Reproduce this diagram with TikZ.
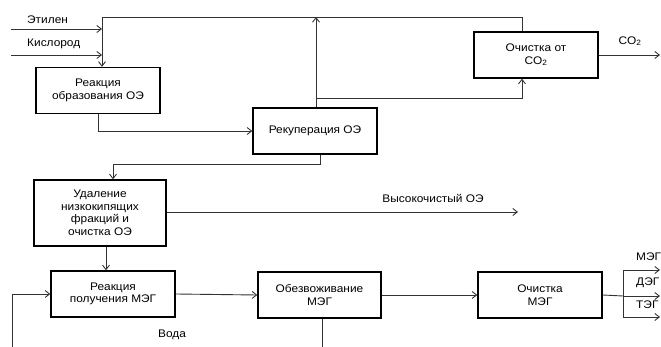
\documentclass[tikz,border=0pt]{standalone}
\usepackage{fontspec}
\setmainfont[FakeStretch=1.08]{Liberation Sans}
\usetikzlibrary{arrows.meta}
\begin{document}
\begin{tikzpicture}[x=1pt,y=-1pt,
  font=\fontsize{11}{12.5}\selectfont,
  box/.style={draw=black,line width=1.4pt,minimum width=124pt,minimum height=46pt,align=center,inner sep=1pt},
  flow/.style={draw=black!80,line width=0.9pt},
  arr/.style={flow,-{Straight Barb[length=4.5pt,width=7pt,line width=0.9pt]}},
  lbl/.style={inner sep=0pt}]
\useasboundingbox (0,0) rectangle (661,347);
% boxes
\node[box] (b1) at (98,90.5) {Реакция\\образования ОЭ};
\node[box] (b2) at (315,131) {Рекуперация ОЭ};
\node[box] (b3) at (536,55) {Очистка от\\CO\textsubscript{2}};
\node[box,minimum width=132pt,minimum height=66pt] (b4) at (100,213) {Удаление\\низкокипящих\\фракций и\\очистка ОЭ};
\node[box] (b5) at (113,294) {Реакция\\получения МЭГ};
\node[box,minimum width=123pt] (b6) at (319.5,295) {Обезвоживание\\МЭГ};
\node[box] (b7) at (540,295) {Очистка\\МЭГ};
% coordinates
\coordinate (eth) at (11,29);
\coordinate (oxy) at (11,55);
\coordinate (tl) at (102,17);
\coordinate (tr) at (522,17);
\coordinate (up) at (316,17);
\coordinate (br) at (316,98);
\coordinate (brr) at (522,98);
\coordinate (co2end) at (660,55);
\coordinate (r2) at (320,164);
\coordinate (r2l) at (113,164);
\coordinate (hp) at (518,212);
\coordinate (rec) at (12,347);
\coordinate (wat) at (322,347);
\coordinate (sp) at (623,296);
\coordinate (spt) at (623,270);
\coordinate (spb) at (623,317);
\coordinate (meg) at (660,270);
\coordinate (deg) at (660,296);
\coordinate (teg) at (660,317);
% labels
\node[lbl,anchor=west] (lEth) at (27,20) {Этилен};
\node[lbl,anchor=west] (lOxy) at (27,44) {Кислород};
\node[lbl] (lCO2) at (630,41) {CO\textsubscript{2}};
\node[lbl] (lHp) at (433,198) {Высокочистый ОЭ};
\node[lbl] (lW) at (172,335) {Вода};
\node[lbl,anchor=west] (lMeg) at (636,257) {МЭГ};
\node[lbl,anchor=west] (lDeg) at (636,283) {ДЭГ};
\node[lbl,anchor=west] (lTeg) at (636,305) {ТЭГ};
% connectors
\draw[arr] (eth) -- (eth -| tl);
\draw[arr] (oxy) -- (oxy -| tl);
\draw[arr] (tl) -- (tl |- b1.north);
\draw[flow] (tl) -- (tr) -- (tr |- b3.north);
\draw[arr] (b2.north -| up) -- (up);
\draw[arr] (br) -- (brr) -- (brr |- b3.south);
\draw[arr] (b3.east) -- (co2end);
\draw[arr] (b1.south) |- (b2.west);
\draw[arr] (b2.south -| r2) -- (r2) -- (r2l) -- (r2l |- b4.north);
\draw[arr] (b4.east |- hp) -- (hp);
\draw[arr] (b4.south -| 106,0) -- (b5.north -| 106,0);
\draw[arr] (rec) |- (b5.west);
\draw[arr] (b5.east) -- (b6.west);
\draw[flow] (b6.south -| wat) -- (wat);
\draw[arr] (b6.east) -- (b7.west);
\draw[flow] (b7.east) -- (sp);
\draw[flow] (spt) -- (spb);
\draw[arr] (spt) -- (meg);
\draw[arr] (sp) -- (deg);
\draw[arr] (spb) -- (teg);
\end{tikzpicture}
\end{document}
